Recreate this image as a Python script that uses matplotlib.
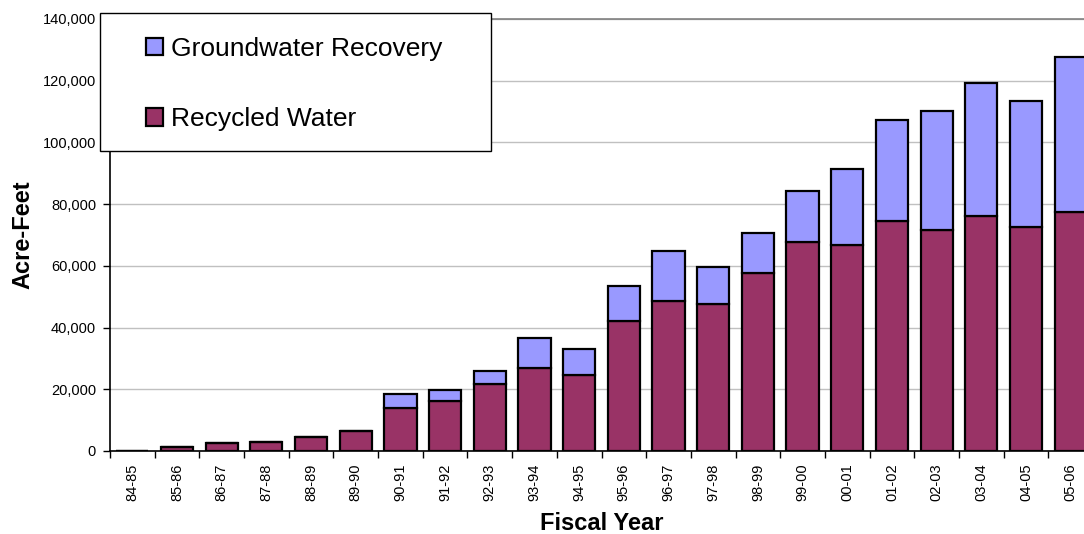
import matplotlib
matplotlib.use("Agg")
import matplotlib.pyplot as plt
from matplotlib.patches import Rectangle, Patch
from matplotlib.ticker import FuncFormatter, MultipleLocator
import numpy as np

plt.rcParams['font.family'] = ['Liberation Sans', 'DejaVu Sans']

fiscal_years = ["84-85", "85-86", "86-87", "87-88", "88-89", "89-90", "90-91",
                "91-92", "92-93", "93-94", "94-95", "95-96", "96-97", "97-98",
                "98-99", "99-00", "00-01", "01-02", "02-03", "03-04", "04-05",
                "05-06"]
recycled_water = [0, 1200, 2600, 2900, 4400, 6600, 14000, 16300, 21800, 26900,
                  24600, 42000, 48600, 47500, 57700, 67800, 66900, 74400,
                  71600, 76000, 72700, 77400]
groundwater_recovery = [0, 0, 0, 0, 0, 0, 4500, 3400, 4200, 9800, 8400,
                        11400, 16100, 12200, 13000, 16600, 24400, 33000,
                        38700, 43300, 40800, 50200]

W, H = 1084, 534
fig = plt.figure(figsize=(W / 100, H / 100), dpi=100)
ax = fig.add_axes([110 / W, (H - 451) / H, (1093 - 110) / W, (451 - 19) / H])

x = np.arange(len(fiscal_years))
recycled_color = "#993366"
ground_color = "#9999FF"
ax.bar(x, recycled_water, width=0.72, color=recycled_color,
       edgecolor="black", linewidth=1.6, zorder=3)
ax.bar(x, groundwater_recovery, width=0.72, bottom=recycled_water,
       color=ground_color, edgecolor="black", linewidth=1.6, zorder=3)

ax.set_xlim(-0.5, len(fiscal_years) - 0.5)
ax.set_ylim(0, 140000)
ax.yaxis.set_major_locator(MultipleLocator(20000))
ax.yaxis.set_major_formatter(FuncFormatter(lambda v, p: f"{int(v):,}"))
ax.yaxis.grid(True, color="#c0c0c0", linewidth=1.0, zorder=0)
ax.set_axisbelow(True)

ax.set_xticks(x)
ax.set_xticklabels(fiscal_years, rotation=90, fontsize=10.5)
ax.set_xticks(np.arange(-0.5, len(fiscal_years)), minor=True)
ax.tick_params(axis="x", which="major", length=0, pad=9)
ax.tick_params(axis="x", which="minor", length=5, width=1, color="black",
               direction="out")
ax.tick_params(axis="y", length=5, width=1, direction="out", pad=5,
               labelsize=10.5)

ax.spines["right"].set_visible(False)
ax.spines["top"].set_color("#808080")
ax.spines["top"].set_linewidth(1.2)
ax.spines["left"].set_linewidth(1.2)
ax.spines["bottom"].set_linewidth(1.2)
ax.spines["bottom"].set_zorder(4)

ax.set_ylabel("Acre-Feet", fontsize=17, fontweight="bold", labelpad=6)
ax.set_xlabel("Fiscal Year", fontsize=17, fontweight="bold", labelpad=8)

# Legend box drawn on the figure, overlapping the upper-left of the plot
frame = Rectangle((100 / W, 1 - 151 / H), (491 - 100) / W, (151 - 13) / H,
                  transform=fig.transFigure, facecolor="white",
                  edgecolor="black", linewidth=1.0, zorder=4)
fig.patches.append(frame)

handles = [Patch(facecolor=ground_color, edgecolor="black", linewidth=1.6),
           Patch(facecolor=recycled_color, edgecolor="black", linewidth=1.6)]
fig.legend(handles, ["Groundwater Recovery", "Recycled Water"],
           loc="center left", bbox_to_anchor=(146 / W, 1 - 84 / H),
           frameon=False, fontsize=19, handlelength=0.65, handleheight=0.65,
           handletextpad=0.3, labelspacing=1.75, borderpad=0,
           borderaxespad=0)

fig.savefig("out.png", dpi=100)
